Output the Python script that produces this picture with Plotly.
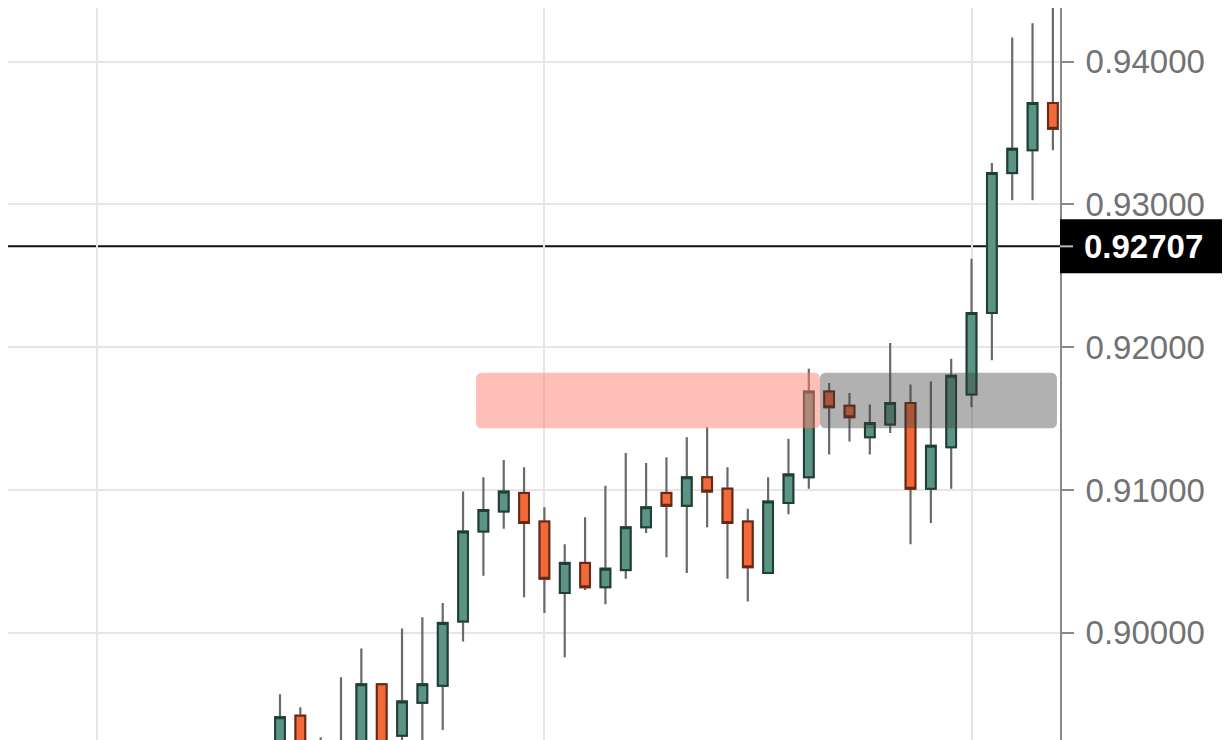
import plotly.graph_objects as go

# ---- data ----
bar_index = list(range(39))
opens = [0.8912, 0.8942, 0.8921, 0.8910, 0.8920, 0.8964, 0.8928, 0.8951, 0.8963, 0.9008,
         0.9071, 0.9085, 0.9098, 0.9078, 0.9028, 0.9049, 0.9032, 0.9044, 0.9074, 0.9098,
         0.9089, 0.9109, 0.9101, 0.9078, 0.9042, 0.9091, 0.9109, 0.9169, 0.9159, 0.9137,
         0.9146, 0.9161, 0.9101, 0.9130, 0.9167, 0.9224, 0.9322, 0.9338, 0.9371]
highs = [0.8957, 0.8948, 0.8927, 0.8969, 0.8989, 0.8965, 0.9003, 0.9011, 0.9021, 0.9099,
         0.9109, 0.9121, 0.9116, 0.9088, 0.9062, 0.9081, 0.9103, 0.9126, 0.9119, 0.9123,
         0.9137, 0.9144, 0.9116, 0.9087, 0.9109, 0.9136, 0.9185, 0.9175, 0.9168, 0.9160,
         0.9203, 0.9174, 0.9176, 0.9192, 0.9262, 0.9329, 0.9417, 0.9427, 0.9460]
lows = [0.8905, 0.8908, 0.8898, 0.8902, 0.8912, 0.8910, 0.8918, 0.8920, 0.8932, 0.8994,
        0.9040, 0.9073, 0.9025, 0.9014, 0.8983, 0.9030, 0.9020, 0.9038, 0.9070, 0.9053,
        0.9042, 0.9074, 0.9038, 0.9022, 0.9042, 0.9083, 0.9101, 0.9125, 0.9134, 0.9125,
        0.9140, 0.9062, 0.9077, 0.9101, 0.9158, 0.9191, 0.9303, 0.9303, 0.9338]
closes = [0.8941, 0.8915, 0.8908, 0.8922, 0.8964, 0.8922, 0.8952, 0.8964, 0.9007, 0.9071,
          0.9086, 0.9099, 0.9077, 0.9038, 0.9049, 0.9032, 0.9045, 0.9074, 0.9088, 0.9089,
          0.9109, 0.9099, 0.9077, 0.9046, 0.9092, 0.9111, 0.9169, 0.9158, 0.9151, 0.9147,
          0.9161, 0.9101, 0.9131, 0.9180, 0.9224, 0.9322, 0.9339, 0.9371, 0.9353]

price_ticks = [0.90, 0.91, 0.92, 0.93, 0.94]
month_lines = [-9, 13, 34]
current_price = 0.92707
current_label = "0.92707"

# zones: (x start, x end, price bottom, price top)
supply_zone = (9.64, 26.55, 0.91433, 0.91822)
gray_zone = (26.55, 38.2, 0.91433, 0.91822)

# ---- layout constants (page body has an 8px margin) ----
FIG_W, FIG_H = 1222, 732
MARGIN_R = 170
X_RANGE = [-13.373, 38.35]
Y_RANGE = [0.8925, 0.94376]
PLOT_W = FIG_W - MARGIN_R
PX_X = PLOT_W / (X_RANGE[1] - X_RANGE[0])
PX_Y = FIG_H / (Y_RANGE[1] - Y_RANGE[0])

GREEN_FILL = "#5b9484"
GREEN_LINE = "#1d3f36"
RED_FILL = "#f26a3a"
RED_LINE = "#6a2812"
WICK = "#6a6a6a"

body_hi = [max(o, c) for o, c in zip(opens, closes)]
body_lo = [min(o, c) for o, c in zip(opens, closes)]

fig = go.Figure()

# wicks layer
fig.add_trace(go.Candlestick(
    x=bar_index, open=opens, high=highs, low=lows, close=closes,
    increasing=dict(line=dict(color=WICK, width=2.2), fillcolor=GREEN_FILL),
    decreasing=dict(line=dict(color=WICK, width=2.2), fillcolor=RED_FILL),
    whiskerwidth=0, hoverinfo="skip", showlegend=False,
))
# bodies layer
fig.add_trace(go.Candlestick(
    x=bar_index, open=opens, high=body_hi, low=body_lo, close=closes,
    increasing=dict(line=dict(color=GREEN_LINE, width=2), fillcolor=GREEN_FILL),
    decreasing=dict(line=dict(color=RED_LINE, width=2), fillcolor=RED_FILL),
    whiskerwidth=0, showlegend=False,
))


def round_rect(x0, x1, y0, y1, r_px=6):
    rx = r_px / PX_X
    ry = r_px / PX_Y
    return (f"M {x0 + rx},{y0} L {x1 - rx},{y0} Q {x1},{y0} {x1},{y0 + ry} "
            f"L {x1},{y1 - ry} Q {x1},{y1} {x1 - rx},{y1} "
            f"L {x0 + rx},{y1} Q {x0},{y1} {x0},{y1 - ry} "
            f"L {x0},{y0 + ry} Q {x0},{y0} {x0 + rx},{y0} Z")


shapes = []
# current price line (below candles)
shapes.append(dict(type="line", xref="x", yref="y", x0=X_RANGE[0], x1=X_RANGE[1],
                   y0=current_price, y1=current_price,
                   line=dict(color="#111111", width=2), layer="below"))
# zones
shapes.append(dict(type="path", xref="x", yref="y",
                   path=round_rect(supply_zone[0], supply_zone[1], supply_zone[2], supply_zone[3]),
                   fillcolor="rgba(255,125,112,0.5)", line=dict(width=0), layer="above"))
shapes.append(dict(type="path", xref="x", yref="y",
                   path=round_rect(gray_zone[0], gray_zone[1], gray_zone[2], gray_zone[3]),
                   fillcolor="rgba(60,60,60,0.4)", line=dict(width=0), layer="above"))
# price label box on the axis
box_half = 27 / PX_Y
shapes.append(dict(type="rect", xref="paper", yref="y", x0=1.0, x1=1 + MARGIN_R / PLOT_W,
                   y0=current_price - box_half, y1=current_price + box_half,
                   fillcolor="#000000", line=dict(width=0), layer="above"))
shapes.append(dict(type="line", xref="paper", yref="y", x0=1.0, x1=1 + 13 / PLOT_W,
                   y0=current_price, y1=current_price,
                   line=dict(color="#bbbbbb", width=2), layer="above"))

fig.update_layout(
    width=FIG_W, height=FIG_H,
    margin=dict(l=0, r=MARGIN_R, t=0, b=0),
    paper_bgcolor="white", plot_bgcolor="white",
    boxgap=0.32,
    shapes=shapes,
    showlegend=False,
    xaxis=dict(range=X_RANGE, tickvals=month_lines, showticklabels=False,
               showgrid=True, gridcolor="#e6e6e6", gridwidth=2, zeroline=False,
               rangeslider=dict(visible=False), fixedrange=True, ticks=""),
    yaxis=dict(range=Y_RANGE, side="right", tickvals=price_ticks,
               ticktext=[f"{v:.5f}" for v in price_ticks],
               showgrid=True, gridcolor="#e6e6e6", gridwidth=2, zeroline=False,
               showline=True, linecolor="#8a8a8a", linewidth=2,
               ticks="outside", ticklen=12, tickwidth=2, tickcolor="#8a8a8a",
               ticklabelstandoff=5,
               tickfont=dict(family="Liberation Sans", size=33, color="#727272")),
    annotations=[dict(xref="paper", yref="y", x=1.0, y=current_price,
                      xanchor="left", yanchor="middle", xshift=22, showarrow=False,
                      text=f"<b>{current_label}</b>",
                      font=dict(family="Liberation Sans", size=33, color="white"))],
)

fig.write_html("out.html")
